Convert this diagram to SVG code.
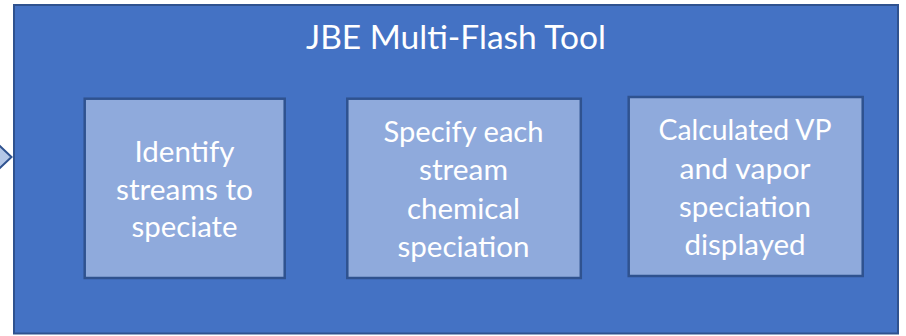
<svg xmlns="http://www.w3.org/2000/svg" width="906" height="336" viewBox="0 0 906 336">
<style>
.outer{fill:#4472C4;stroke:#2F528F;stroke-width:2}
.box{fill:#8FAADC;stroke:#2F528F;stroke-width:2.5}
.chev{fill:#B4C7E7;stroke:#2F528F;stroke-width:2}
text{font-family:Lato,"Liberation Sans",sans-serif;fill:#FFFFFF;text-anchor:middle}
.t{font-size:33px}
.b{font-size:29px}
</style>
<rect width="906" height="336" fill="#FFFFFF"/>
<g id="connectors">
<polygon class="chev" points="-12,135 11.5,157 -12,179"/>
</g>
<g id="tool">
<rect class="outer" x="14" y="5" width="884" height="328.5"/>
<text class="t" x="456" y="49" textLength="300" lengthAdjust="spacingAndGlyphs">JBE Multi-Flash Tool</text>
</g>
<g id="step1">
<rect class="box" x="84.7" y="98.7" width="200" height="179.3"/>
<text class="b" x="184.5" y="162" textLength="100" lengthAdjust="spacingAndGlyphs">Identify</text>
<text class="b" x="184.5" y="199.5" textLength="137" lengthAdjust="spacingAndGlyphs">streams to</text>
<text class="b" x="184.5" y="237" textLength="106" lengthAdjust="spacingAndGlyphs">speciate</text>
</g>
<g id="step2">
<rect class="box" x="347.3" y="98.7" width="233.5" height="179.3"/>
<text class="b" x="463.5" y="142" textLength="160" lengthAdjust="spacingAndGlyphs">Specify each</text>
<text class="b" x="463.5" y="180" textLength="89" lengthAdjust="spacingAndGlyphs">stream</text>
<text class="b" x="463.5" y="218.5" textLength="113" lengthAdjust="spacingAndGlyphs">chemical</text>
<text class="b" x="463.5" y="257" textLength="132" lengthAdjust="spacingAndGlyphs">speciation</text>
</g>
<g id="step3">
<rect class="box" x="628.7" y="97" width="234" height="179"/>
<text class="b" x="745" y="140" textLength="173" lengthAdjust="spacingAndGlyphs">Calculated VP</text>
<text class="b" x="745" y="178.5" textLength="131" lengthAdjust="spacingAndGlyphs">and vapor</text>
<text class="b" x="745" y="217" textLength="132" lengthAdjust="spacingAndGlyphs">speciation</text>
<text class="b" x="745" y="255" textLength="121" lengthAdjust="spacingAndGlyphs">displayed</text>
</g>
</svg>
